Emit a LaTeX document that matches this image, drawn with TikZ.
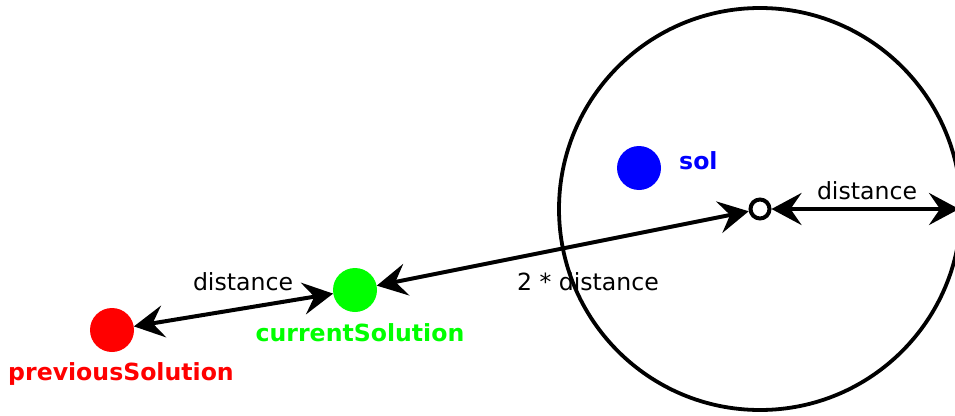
\documentclass[tikz,border=0pt]{standalone}
\usepackage{fontspec}
\setmainfont{DejaVu Sans}
\usetikzlibrary{arrows.meta}
\definecolor{pred}{RGB}{255,0,0}
\definecolor{pgreen}{RGB}{0,255,0}
\definecolor{pblue}{RGB}{0,0,255}
\tikzset{
  dot/.style={circle, inner sep=0pt, minimum size=44pt, draw=none},
  lbl/.style={font=\fontsize{23.6}{28}\selectfont, inner sep=0pt},
  blbl/.style={font=\fontsize{23.6}{28}\selectfont\bfseries, inner sep=0pt},
  tip/.style={Stealth[length=30pt,width=32pt,inset=11pt]},
  conn/.style={line width=4pt, {Stealth[length=30pt,width=32pt,inset=11pt]}-{Stealth[length=30pt,width=32pt,inset=11pt]}},
}
\begin{document}
\begin{tikzpicture}[x=1pt,y=-1pt]
\useasboundingbox (0,0) rectangle (955,415);
\clip (0,0) rectangle (955,415);
% big circle
\node[circle, draw, line width=3.8pt, minimum size=402pt, inner sep=0pt] (big) at (760,209) {};
\node[circle, draw, line width=4pt, minimum size=19pt, inner sep=0pt, fill=white] (c) at (760,209) {};
\coordinate (edge) at (959,209);
% dots
\node[dot, fill=pblue] (sol) at (639,168) {};
\node[dot, fill=pgreen] (cur) at (355,290) {};
\node[dot, fill=pred] (prev) at (112,330) {};
% labels
\node[blbl, text=pblue, anchor=west] (soll) at (679,161) {sol};
\node[blbl, text=pgreen] (curl) at (360,333) {currentSolution};
\node[blbl, text=pred] (prevl) at (121,374) {previousSolution};
\node[lbl] (d1) at (243,282) {distance};
\node[lbl] (d2) at (588,282) {2 * distance};
\node[lbl] (d3) at (867,191) {distance};
% connectors
\draw[conn] (prev) -- (cur);
\draw[conn] (cur) -- (c);
\draw[conn] (c) -- (edge);
\end{tikzpicture}
\end{document}
